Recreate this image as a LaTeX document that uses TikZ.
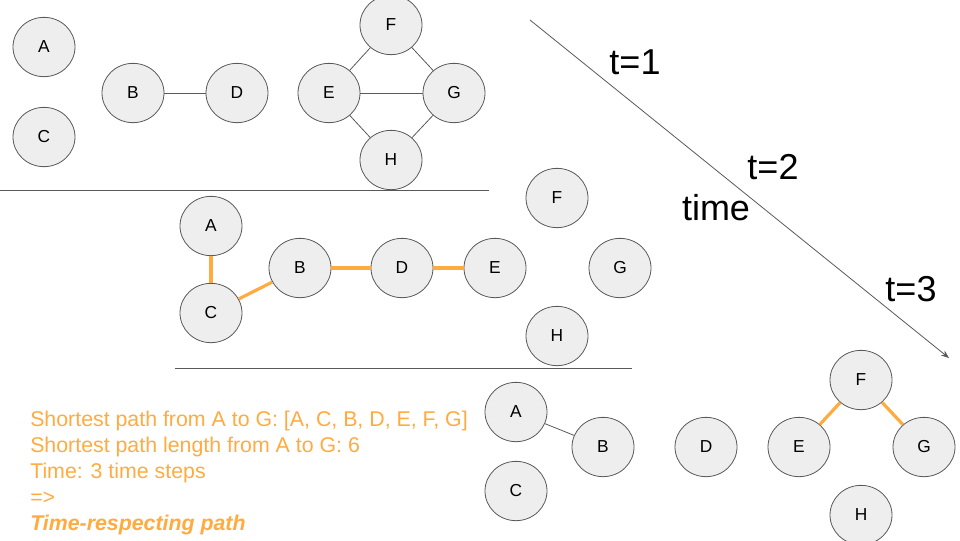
\documentclass[tikz,border=0pt]{standalone}
\usepackage{fontspec}
\setmainfont{Liberation Sans}
\usepackage{tikz}
\usetikzlibrary{arrows.meta}
\usetikzlibrary{shapes.geometric}
\definecolor{pathorange}{HTML}{FFAB40}
\definecolor{nodefill}{HTML}{EEEEEE}
\definecolor{linegray}{HTML}{595959}
\tikzset{
    vertex/.style={
        ellipse,
        draw=linegray,
        fill=nodefill,
        line width=0.6pt,
        minimum width=46.5pt,
        minimum height=44.5pt,
        inner sep=0pt,
        font=\fontsize{13}{15}\selectfont
    },
    link/.style={
        draw=linegray,
        line width=0.6pt
    },
    hop/.style={
        draw=pathorange,
        line width=2.4pt
    },
    stamp/.style={
        font=\fontsize{27}{30}\selectfont
    },
    note/.style={
        anchor=base west,
        inner sep=0pt,
        text=pathorange,
        font=\fontsize{16}{18}\selectfont
    }
}
\begin{document}
\begin{tikzpicture}[x=0.75pt,y=-0.75pt]
    \useasboundingbox (0,0) rectangle (960,540);
    \node[vertex] (A1) at (44,47) {A};
    \node[vertex] (C1) at (44,137) {C};
    \node[vertex] (B1) at (133,93) {B};
    \node[vertex] (D1) at (237,93) {D};
    \node[vertex] (E1) at (329,93) {E};
    \node[vertex] (F1) at (391,25) {F};
    \node[vertex] (G1) at (454,93) {G};
    \node[vertex] (H1) at (391,160) {H};
    \foreach \s/\t in {B1/D1,E1/F1,E1/G1,E1/H1,F1/G1,H1/G1}
        \draw[link] (\s) -- (\t);
    \coordinate (cut1a) at (0,190);
    \coordinate (cut1b) at (489,190);
    \draw[link] (cut1a) -- (cut1b);

    \node[vertex] (A2) at (211,226) {A};
    \node[vertex] (C2) at (211,313) {C};
    \node[vertex] (B2) at (300,268) {B};
    \node[vertex] (D2) at (402,268) {D};
    \node[vertex] (E2) at (495,268) {E};
    \node[vertex] (F2) at (557,198) {F};
    \node[vertex] (G2) at (620,268) {G};
    \node[vertex] (H2) at (557,336) {H};
    \foreach \s/\t in {A2/C2,C2/B2,B2/D2,D2/E2}
        \draw[hop] (\s) -- (\t);
    \coordinate (cut2a) at (175,368);
    \coordinate (cut2b) at (632,368);
    \draw[link] (cut2a) -- (cut2b);

    \node[vertex] (A3) at (516,412) {A};
    \node[vertex] (B3) at (603,447) {B};
    \node[vertex] (C3) at (516,491) {C};
    \node[vertex] (D3) at (706,447) {D};
    \node[vertex] (E3) at (799,447) {E};
    \node[vertex] (F3) at (861,380) {F};
    \node[vertex] (G3) at (924,447) {G};
    \node[vertex] (H3) at (861,515) {H};
    \draw[link] (A3) -- (B3);
    \foreach \s/\t in {E3/F3,F3/G3}
        \draw[hop] (\s) -- (\t);

    \coordinate (tstart) at (530,20);
    \coordinate (tend) at (949,358);
    \draw[link,-{Stealth[length=6pt,width=4.5pt]}] (tstart) -- (tend);
    \node[stamp] (t1) at (635,62) {t=1};
    \node[stamp] (t2) at (773,167) {t=2};
    \node[stamp] (tlabel) at (716,208) {time};
    \node[stamp] (t3) at (911,289) {t=3};

    \node[note] (line1) at (30,426) {Shortest path from A to G: [A, C, B, D, E, F, G]};
    \node[note] (line2) at (30,452) {Shortest path length from A to G: 6};
    \node[note] (line3) at (30,478) {Time: 3 time steps};
    \node[note] (line4) at (30,504) {=>};
    \node[note,font=\fontsize{16}{18}\selectfont\bfseries\itshape] (line5) at (30,530) {Time-respecting path};
\end{tikzpicture}
\end{document}
